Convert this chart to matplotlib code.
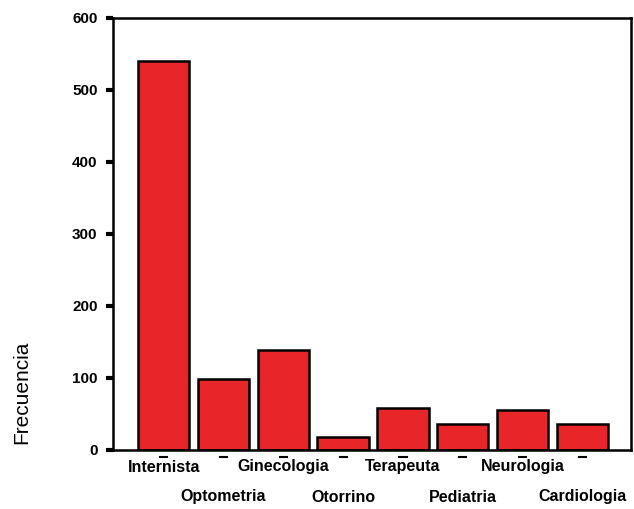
import matplotlib
matplotlib.use("Agg")
import matplotlib.pyplot as plt
from matplotlib.transforms import blended_transform_factory

categories = ["Internista", "Optometria", "Ginecologia", "Otorrino", "Terapeuta",
              "Pediatria", "Neurologia", "Cardiologia"]
values = [540, 99, 139, 18, 58, 36, 55, 36]
yticks = [0, 100, 200, 300, 400, 500, 600]

fig = plt.figure(figsize=(6.34, 5.09), dpi=100)
ax = fig.add_axes([0.178, 0.116, 0.817, 0.849])

x = list(range(len(categories)))
ax.bar(x, values, width=0.86, color="#e8262a", edgecolor="black", linewidth=1.8, zorder=2)

ax.set_xlim(-0.85, 7.81)
ax.set_ylim(0, 600)
ax.set_yticks(yticks)
ax.set_yticklabels([str(v) for v in yticks], fontfamily="Liberation Sans",
                   fontweight="bold", fontsize=11)
ax.tick_params(axis="y", length=5, width=3, pad=6)

ax.set_xticks([])
trans = blended_transform_factory(ax.transData, fig.transFigure)
for i, c in enumerate(categories):
    ypix = 497 if i % 2 else 467
    ax.text(i, 1 - ypix / 509, c, transform=trans, ha="center", va="center",
            fontfamily="Liberation Sans", fontweight="bold", fontsize=11.5)
    ax.plot([i - 0.06, i + 0.06], [-10, -10], color="black", lw=1.5,
            clip_on=False)

for s in ax.spines.values():
    s.set_linewidth(1.8)
    s.set_color("black")

fig.text(0.035, 0.23, "Frecuencia", rotation=90, ha="center", va="center",
         fontfamily="Liberation Sans", fontsize=15)

fig.savefig("out.png", dpi=100)
